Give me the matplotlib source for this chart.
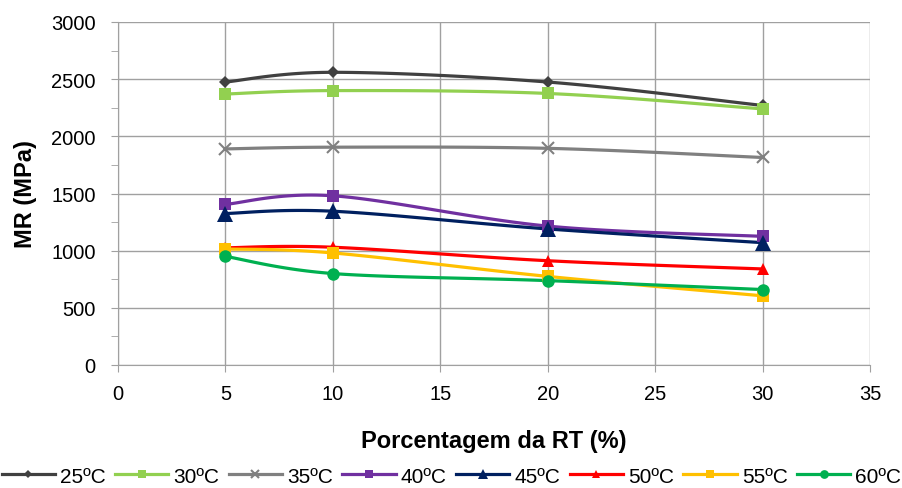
import numpy as np
import matplotlib.pyplot as plt

plt.rcParams['font.family'] = ['Liberation Sans', 'DejaVu Sans']

# dados
rt = [5, 10, 20, 30]
labels = ['25ºC', '30ºC', '35ºC', '40ºC', '45ºC', '50ºC', '55ºC', '60ºC']
mr_25 = [2475, 2560, 2475, 2270]
mr_30 = [2370, 2400, 2375, 2240]
mr_35 = [1890, 1905, 1895, 1815]
mr_40 = [1405, 1480, 1215, 1125]
mr_45 = [1325, 1345, 1190, 1070]
mr_50 = [1025, 1030, 912, 840]
mr_55 = [1015, 980, 775, 605]
mr_60 = [950, 800, 738, 660]
series = [mr_25, mr_30, mr_35, mr_40, mr_45, mr_50, mr_55, mr_60]

cores = ['#404040', '#92D050', '#808080', '#7030A0', '#002060', '#FF0000', '#FFC000', '#00B050']
marcadores = ['D', 's', 'x', 's', '^', '^', 's', 'o']
tamanhos = [6, 9, 8, 9, 11, 8, 9, 9]


def suaviza(x, y, n=30):
    # curva suave tipo Excel (Catmull-Rom em Bezier)
    x = np.asarray(x, float)
    y = np.asarray(y, float)
    px = np.concatenate([[x[0]], x, [x[-1]]])
    py = np.concatenate([[y[0]], y, [y[-1]]])
    xs, ys = [], []
    t = np.linspace(0, 1, n)
    for i in range(1, len(px) - 2):
        p0 = np.array([px[i], py[i]])
        p3 = np.array([px[i + 1], py[i + 1]])
        c1 = p0 + (np.array([px[i + 1], py[i + 1]]) - np.array([px[i - 1], py[i - 1]])) / 6
        c2 = p3 - (np.array([px[i + 2], py[i + 2]]) - np.array([px[i], py[i]])) / 6
        b = ((1 - t) ** 3)[:, None] * p0 + (3 * (1 - t) ** 2 * t)[:, None] * c1 \
            + (3 * (1 - t) * t ** 2)[:, None] * c2 + (t ** 3)[:, None] * p3
        xs.extend(b[:, 0])
        ys.extend(b[:, 1])
    return xs, ys


fig = plt.figure(figsize=(9.03, 4.89), dpi=100)
ax = fig.add_axes([118 / 903, 1 - 366 / 489, (870 - 118) / 903, (366 - 23) / 489])

for s, lab, c, m, ms in zip(series, labels, cores, marcadores, tamanhos):
    xs, ys = suaviza(rt, s)
    ax.plot(xs, ys, color=c, lw=2.3, zorder=2)
    mew = 1.5 if m == 'x' else 0
    ax.plot(rt, s, ls='none', marker=m, ms=ms, color=c, mew=mew, zorder=3)
    ax.plot([], [], color=c, lw=2.3, marker=m, ms=ms * 0.7, mew=mew, label=lab)

ax.set_xlim(0, 35)
ax.set_ylim(0, 3000)
ax.set_xticks(range(0, 36, 5))
ax.set_yticks(range(0, 3001, 500))
ax.set_yticks(range(0, 3001, 250), minor=True)
ax.grid(True, color='#A0A0A0', lw=1)
ax.tick_params(axis='both', which='both', color='#A0A0A0', labelsize=14.5, length=5)
ax.tick_params(axis='y', which='both', pad=11)
ax.tick_params(axis='x', pad=9)
for lado in ['top', 'right']:
    ax.spines[lado].set_visible(False)
for lado in ['left', 'bottom']:
    ax.spines[lado].set_color('#A0A0A0')

ax.set_xlabel('Porcentagem da RT (%)', fontsize=17, fontweight='bold')
ax.set_ylabel('MR (MPa)', fontsize=17, fontweight='bold')
ax.xaxis.set_label_coords(0.5, -0.187)
ax.yaxis.set_label_coords(-0.108, 0.5)

fig.legend(loc='center', bbox_to_anchor=(0.5, 0.024), ncol=8, frameon=False,
           fontsize=15, handlelength=2.55, handletextpad=0.25, columnspacing=0.45,
           borderpad=0, borderaxespad=0)

fig.savefig('out.png', dpi=100)
